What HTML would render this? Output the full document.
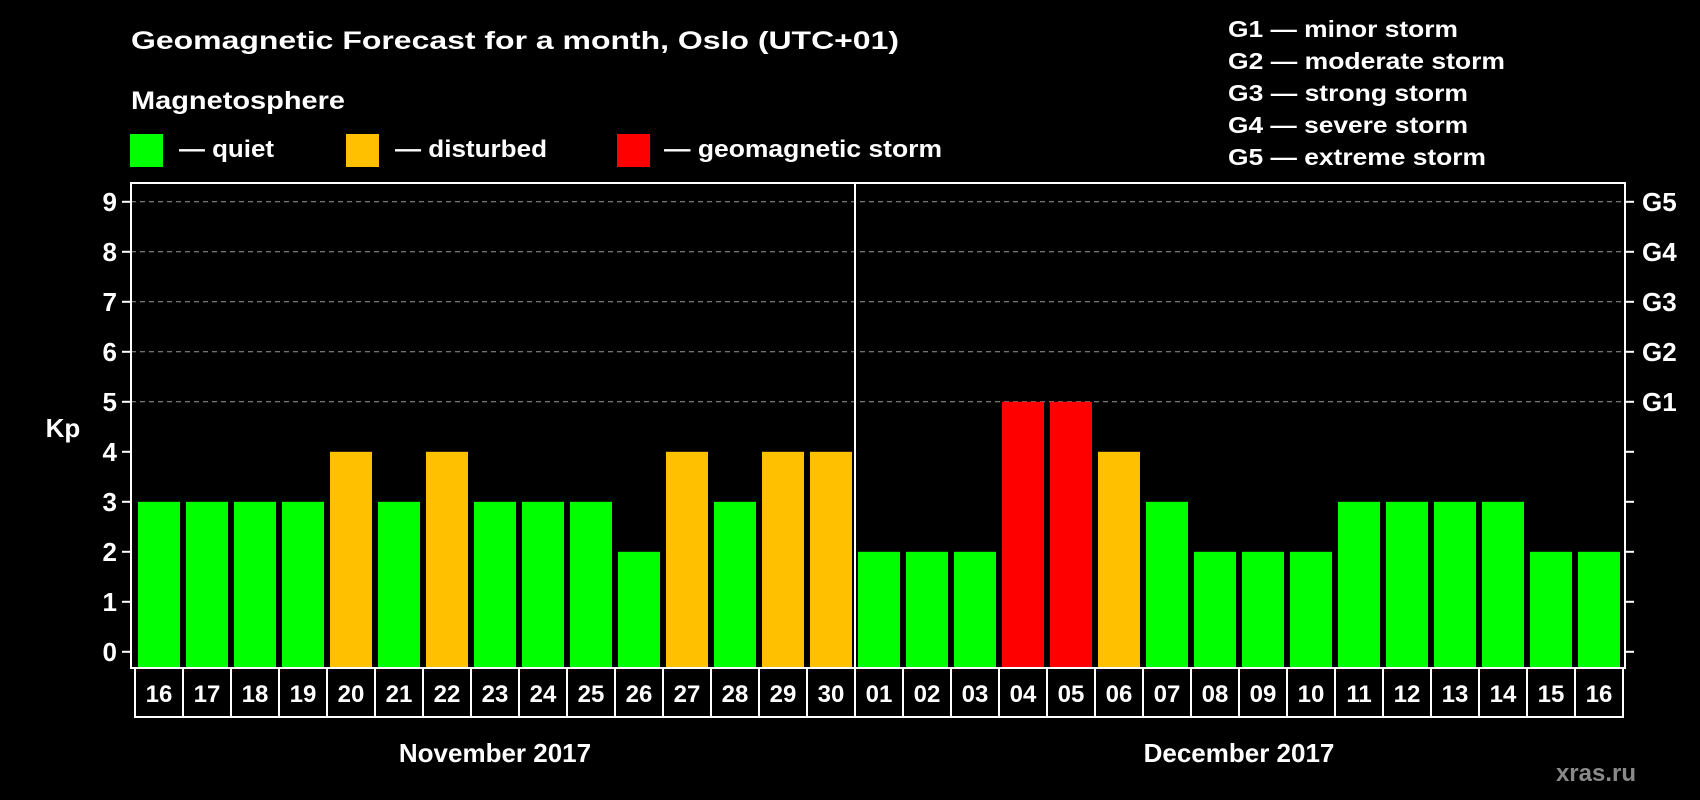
<!DOCTYPE html>
<html><head><meta charset="utf-8"><style>
html,body{margin:0;padding:0;background:#000;}
svg{display:block;font-family:"Liberation Sans",Arial,sans-serif;font-weight:bold;}
</style></head><body>
<svg id="chart" width="1700" height="800" viewBox="0 0 1700 800">
<rect x="0" y="0" width="1700" height="800" fill="#000"/>
<text x="131" y="49" fill="#fff" font-size="25" textLength="768" lengthAdjust="spacingAndGlyphs">Geomagnetic Forecast for a month, Oslo (UTC+01)</text>
<text x="131" y="109" fill="#fff" font-size="25" textLength="214" lengthAdjust="spacingAndGlyphs">Magnetosphere</text>
<g>
<rect x="130" y="134" width="33" height="33" fill="#00ff00"/>
<text x="179" y="157" fill="#fff" font-size="24" textLength="95" lengthAdjust="spacingAndGlyphs">— quiet</text>
</g>
<g>
<rect x="346" y="134" width="33" height="33" fill="#ffc000"/>
<text x="395" y="157" fill="#fff" font-size="24" textLength="152" lengthAdjust="spacingAndGlyphs">— disturbed</text>
</g>
<g>
<rect x="617" y="134" width="33" height="33" fill="#ff0000"/>
<text x="664" y="157" fill="#fff" font-size="24" textLength="278" lengthAdjust="spacingAndGlyphs">— geomagnetic storm</text>
</g>
<g fill="#fff" font-size="23">
<text x="1228" y="37" textLength="230" lengthAdjust="spacingAndGlyphs">G1 — minor storm</text>
<text x="1228" y="69" textLength="277" lengthAdjust="spacingAndGlyphs">G2 — moderate storm</text>
<text x="1228" y="101" textLength="240" lengthAdjust="spacingAndGlyphs">G3 — strong storm</text>
<text x="1228" y="133" textLength="240" lengthAdjust="spacingAndGlyphs">G4 — severe storm</text>
<text x="1228" y="165" textLength="258" lengthAdjust="spacingAndGlyphs">G5 — extreme storm</text>
</g>
<text x="63" y="437" fill="#fff" font-size="26" text-anchor="middle">Kp</text>
<g id="grid"></g>
<g id="bars"></g>
<g id="axes"></g>
<text x="1636" y="781" fill="#8a8a8a" font-size="24" text-anchor="end">xras.ru</text>
</svg>
<script>
const days = ["16","17","18","19","20","21","22","23","24","25","26","27","28","29","30","01","02","03","04","05","06","07","08","09","10","11","12","13","14","15","16"];
const kpValues = [3,3,3,3,4,3,4,3,3,3,2,4,3,4,4,2,2,2,5,5,4,3,2,2,2,3,3,3,3,2,2];
const yTicks = [0,1,2,3,4,5,6,7,8,9];
const gLabels = ["G1","G2","G3","G4","G5"];
const gLevels = [5,6,7,8,9];
const months = ["November 2017","December 2017"];
const monthDayCounts = [15,16];

const NS="http://www.w3.org/2000/svg";
const L=131,R=1625,T=183,B=668,Y0=651.8,UNIT=50;
const X0=135,STEP=48,BW=42;
function y(v){return Y0-v*UNIT;}
function x(i){return X0+i*STEP;}
function mk(tag,attrs,parent){const e=document.createElementNS(NS,tag);for(const k in attrs)e.setAttribute(k,attrs[k]);parent.appendChild(e);return e;}
function color(v){return v>=5?"#ff0000":(v>=4?"#ffc000":"#00ff00");}

const grid=document.getElementById('grid'),bars=document.getElementById('bars'),axes=document.getElementById('axes');
gLevels.forEach(v=>{
  const l=mk('line',{x1:L,x2:R,y1:y(v),y2:y(v),stroke:"#999",'stroke-width':1,'stroke-dasharray':"5,4"},grid);
  
  
});
kpValues.forEach((v,i)=>{
  const r=mk('rect',{x:x(i)+3,y:y(v),width:BW,height:B-y(v),fill:color(v)},bars);
  
  
});
const frame=mk('rect',{x:L,y:T,width:R-L,height:B-T,fill:"none",stroke:"#fff",'stroke-width':2},axes);


const divX=x(monthDayCounts[0]);
const dv=mk('line',{x1:divX,x2:divX,y1:T,y2:B,stroke:"#fff",'stroke-width':2},axes);


yTicks.forEach(v=>{
  const t=mk('line',{x1:L-9,x2:L,y1:y(v),y2:y(v),stroke:"#fff",'stroke-width':2},axes);
  
  
  const t2=mk('line',{x1:R,x2:R+9,y1:y(v),y2:y(v),stroke:"#fff",'stroke-width':2},axes);
  
  
  const lb=mk('text',{x:117,y:y(v)+9,fill:"#fff",'font-size':26,'text-anchor':"end"},axes);
  lb.textContent=v;
  
  
});
gLabels.forEach((g,i)=>{
  const lb=mk('text',{x:1642,y:y(gLevels[i])+9,fill:"#fff",'font-size':26},axes);
  lb.textContent=g;
  
  
});
const cellTop=B,cellBot=717;
const cb=mk('rect',{x:X0,y:cellTop,width:days.length*STEP,height:cellBot-cellTop,fill:"none",stroke:"#fff",'stroke-width':2},axes);


days.forEach((d,i)=>{
  if(i>0){
    const s=mk('line',{x1:x(i),x2:x(i),y1:cellTop,y2:cellBot,stroke:"#fff",'stroke-width':2},axes);
    
    
  }
  const t=mk('text',{x:x(i)+STEP/2,y:702,fill:"#fff",'font-size':24,'text-anchor':"middle"},axes);
  t.textContent=d;
  
  
});
let start=0;
months.forEach((m,i)=>{
  const cx=x(start)+monthDayCounts[i]*STEP/2;
  const t=mk('text',{x:cx,y:762,fill:"#fff",'font-size':26,'text-anchor':"middle"},axes);
  t.textContent=m;
  
  
  start+=monthDayCounts[i];
});
</script>
</body></html>
